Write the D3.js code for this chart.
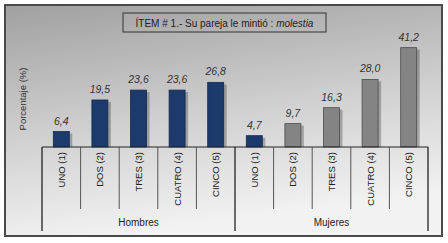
<!DOCTYPE html>
<meta charset="utf-8">
<style>
	body { margin: 0; background: #fff; }
	text { font-family: "Liberation Sans", Arial, sans-serif; }
</style>
<svg width="448" height="243"></svg>
<script src="https://d3js.org/d3.v7.min.js"></script>
<script>
	var groups = ['Hombres', 'Mujeres']
	var categories = ['UNO (1)', 'DOS (2)', 'TRES (3)', 'CUATRO (4)', 'CINCO (5)']
	var hombres = [6.4, 19.5, 23.6, 23.6, 26.8]
	var mujeres = [4.7, 9.7, 16.3, 28.0, 41.2]
	var valueLabels = [['6,4', '19,5', '23,6', '23,6', '26,8'], ['4,7', '9,7', '16,3', '28,0', '41,2']]

	var data = []
	groups.forEach(function (g, gi) {
		var vals = gi === 0 ? hombres : mujeres
		categories.forEach(function (c, ci) {
			data.push({ key: g + ci, group: g, cat: c, value: vals[ci], label: valueLabels[gi][ci], navy: gi === 0 || ci === 0 })
		})
	})

	var svg = d3.select('svg')
	var defs = svg.append('defs')
	var grad = defs.append('linearGradient').attr('id', 'bg')
		.attr('x1', '0').attr('y1', '0').attr('x2', '0.25').attr('y2', '1')
	grad.append('stop').attr('offset', '0%').attr('stop-color', '#a0a0a0')
	grad.append('stop').attr('offset', '55%').attr('stop-color', '#d0d0d0')
	grad.append('stop').attr('offset', '100%').attr('stop-color', '#f2f2f2')

	// marco
	svg.append('rect')
		.attr('x', 5).attr('y', 5).attr('width', 437).attr('height', 231)
		.attr('fill', 'url(#bg)')
		.attr('stroke', '#4a4a4a').attr('stroke-width', 2)

	var left = 42, right = 428, base = 147

	var x = d3.scaleBand().domain(data.map(d => d.key)).range([left, right]).paddingInner(0).paddingOuter(0)
	var xg = d3.scaleBand().domain(groups).range([left, right])
	var y = d3.scaleLinear().domain([0, 45]).range([base, base - 108.5])

	var bw = 16
	var g = svg.append('g')

	// sombra
	g.selectAll('.shadow').data(data).enter().append('rect')
		.attr('x', d => x(d.key) + (x.bandwidth() - bw) / 2 + 3)
		.attr('y', d => y(d.value) + 2)
		.attr('width', bw)
		.attr('height', d => base - y(d.value) - 2)
		.attr('fill', '#000').attr('opacity', 0.25)

	g.selectAll('.bar').data(data).enter().append('rect')
		.attr('class', 'bar')
		.attr('x', d => x(d.key) + (x.bandwidth() - bw) / 2)
		.attr('y', d => y(d.value))
		.attr('width', bw)
		.attr('height', d => base - y(d.value))
		.attr('fill', d => d.navy ? '#1c3a6c' : '#848484')
		.attr('stroke', d => d.navy ? '#142a50' : '#4a4a4a')
		.attr('stroke-width', 0.8)

	g.selectAll('.val').data(data).enter().append('text')
		.attr('x', d => x(d.key) + x.bandwidth() / 2)
		.attr('y', d => y(d.value) - 7)
		.attr('text-anchor', 'middle')
		.attr('font-size', 10.5)
		.attr('font-style', 'italic')
		.attr('fill', '#333')
		.text(d => d.label)

	// eje
	g.append('line').attr('x1', left).attr('x2', right).attr('y1', base).attr('y2', base)
		.attr('stroke', '#222').attr('stroke-width', 1)

	// separadores de categorías
	var seps = d3.range(0, data.length + 1)
	g.selectAll('.sep').data(seps).enter().append('line')
		.attr('x1', i => i < data.length ? x(data[i].key) : right)
		.attr('x2', i => i < data.length ? x(data[i].key) : right)
		.attr('y1', base)
		.attr('y2', i => i % 5 === 0 ? 231 : 209)
		.attr('stroke', i => i % 5 === 0 ? '#222' : '#555')
		.attr('stroke-width', i => i % 5 === 0 ? 1.3 : 1)

	g.selectAll('.cat').data(data).enter().append('text')
		.attr('transform', d => 'translate(' + (x(d.key) + x.bandwidth() / 2 + 3.5) + ',152) rotate(-90)')
		.attr('text-anchor', 'end')
		.attr('font-size', 9.5)
		.attr('fill', '#222')
		.text(d => d.cat)

	g.selectAll('.grp').data(groups).enter().append('text')
		.attr('x', d => xg(d) + xg.bandwidth() / 2)
		.attr('y', 226)
		.attr('text-anchor', 'middle')
		.attr('font-size', 10)
		.attr('fill', '#222')
		.text(d => d)

	svg.append('text')
		.attr('transform', 'translate(26,99) rotate(-90)')
		.attr('text-anchor', 'middle')
		.attr('font-size', 9.5)
		.attr('fill', '#333')
		.text('Porcentaje (%)')

	// título
	svg.append('rect').attr('x', 123).attr('y', 13).attr('width', 203).attr('height', 19)
		.attr('fill', 'none').attr('stroke', '#333').attr('stroke-width', 1)
	var t = svg.append('text').attr('x', 224.5).attr('y', 26.5).attr('text-anchor', 'middle')
		.attr('font-size', 10).attr('fill', '#222')
	t.append('tspan').text('ÍTEM # 1.-  Su pareja le mintió : ')
	t.append('tspan').attr('font-style', 'italic').text('molestia')
</script>
